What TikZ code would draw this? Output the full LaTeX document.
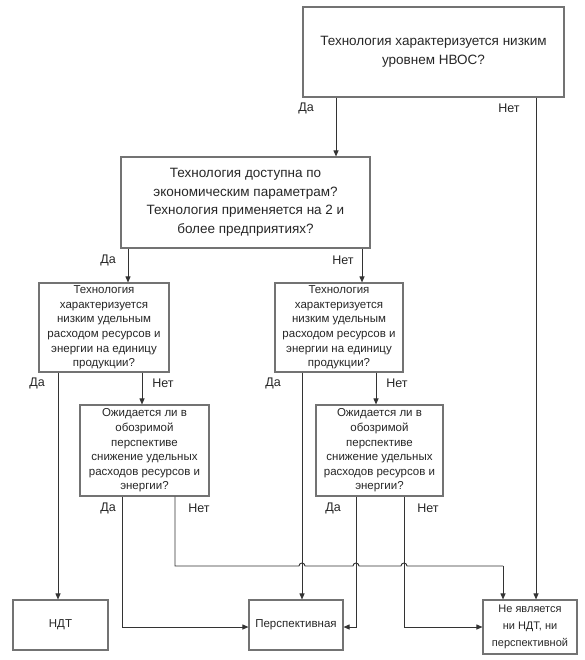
\documentclass[tikz,border=0pt]{standalone}
\usepackage{fontspec}
\setmainfont{Liberation Sans}
\usetikzlibrary{arrows.meta,positioning}

\begin{document}
\begin{tikzpicture}[
  x=1pt, y=-1pt, >={Triangle[length=6pt,width=5pt]},
  box/.style={draw=black!55, line width=1.1pt, align=center, inner sep=2pt, text=black!85},
  big/.style={box, font=\fontsize{13.5}{18.5}\selectfont},
  mid/.style={box, font=\fontsize{11.5}{14.6}\selectfont},
  leaf/.style={box, font=\fontsize{11.5}{17}\selectfont},
  lbl/.style={font=\fontsize{12.5}{14}\selectfont, text=black!85},
  dep/.style={->, line width=0.9pt, black!80},
  hop/.style={line width=0.9pt, black!80}
]
\useasboundingbox (0,0) rectangle (584,660);

\node[big, minimum width=261pt, minimum height=90pt] (top) at (433.5,52)
  {Технология характеризуется низким\\уровнем НВОС?};
\node[big, minimum width=249pt, minimum height=91pt] (access) at (245.5,202.5)
  {Технология доступна по\\экономическим параметрам?\\Технология применяется на 2 и\\более предприятиях?};

\node[mid, minimum width=130pt, minimum height=89pt] (lowL) at (104,327.5)
  {Технология\\характеризуется\\низким удельным\\расходом ресурсов и\\энергии на единицу\\продукции?};
\node[mid, minimum width=128pt, minimum height=89pt] (lowR) at (339,327.5)
  {Технология\\характеризуется\\низким удельным\\расходом ресурсов и\\энергии на единицу\\продукции?};

\node[mid, minimum width=129pt, minimum height=91pt] (expL) at (144.5,450.5)
  {Ожидается ли в\\обозримой\\перспективе\\снижение удельных\\расходов ресурсов и\\энергии?};
\node[mid, minimum width=127pt, minimum height=91pt] (expR) at (379.5,450.5)
  {Ожидается ли в\\обозримой\\перспективе\\снижение удельных\\расходов ресурсов и\\энергии?};

\node[leaf, minimum width=95pt, minimum height=50pt] (ndt) at (60.5,625) {НДТ};
\node[leaf, minimum width=94pt, minimum height=50pt] (persp) at (296,625) {Перспективная};
\node[leaf, font=\fontsize{11}{17}\selectfont, minimum width=94pt, minimum height=54pt] (none) at (530,627)
  {Не является\\ни НДТ, ни\\перспективной};

% labels
\node[lbl] (yes0) at (306,108) {Да};
\node[lbl] (no0) at (509,108) {Нет};
\node[lbl] (yes1) at (108,260) {Да};
\node[lbl] (no1) at (343,260) {Нет};
\node[lbl] (yes2) at (37,383) {Да};
\node[lbl] (no2) at (163,383) {Нет};
\node[lbl] (yes3) at (273,383) {Да};
\node[lbl] (no3) at (397,383) {Нет};
\node[lbl] (yes4) at (108,508) {Да};
\node[lbl] (no4) at (199,508) {Нет};
\node[lbl] (yes5) at (333,508) {Да};
\node[lbl] (no5) at (428,508) {Нет};

\draw[dep] ([xshift=-97.5pt]top.south) -- ([xshift=-97.5pt]top.south |- access.north);
\draw[dep] ([xshift=102.5pt]top.south) -- ([xshift=102.5pt]top.south |- none.north);
\draw[dep] ([xshift=-117.5pt]access.south) -- ([xshift=-117.5pt]access.south |- lowL.north);
\draw[dep] ([xshift=116.5pt]access.south) -- ([xshift=116.5pt]access.south |- lowR.north);
\draw[dep] ([xshift=-46pt]lowL.south) -- ([xshift=-46pt]lowL.south |- ndt.north);
\draw[dep] ([xshift=38pt]lowL.south) -- ([xshift=38pt]lowL.south |- expL.north);
\draw[dep] ([xshift=-37pt]lowR.south) -- ([xshift=-37pt]lowR.south |- persp.north);
\draw[dep] ([xshift=37pt]lowR.south) -- ([xshift=37pt]lowR.south |- expR.north);
\draw[dep] ([xshift=-22.5pt]expL.south) |- ([yshift=-2pt]persp.west);
\draw[dep] ([xshift=-23.5pt]expR.south) |- ([yshift=-2pt]persp.east);
\draw[dep] ([xshift=24.5pt]expR.south) |- (none.west);
% line with hops over the crossings
\draw[hop] ([xshift=30.5pt]expL.south) -- (175,566) -- (299,566)
  arc[start angle=180, end angle=0, radius=3pt] -- (353,566)
  arc[start angle=180, end angle=0, radius=3pt] -- (401,566)
  arc[start angle=180, end angle=0, radius=3pt] -- (503,566);
\draw[dep] (503,566) -- ([xshift=-27pt]none.north);
\end{tikzpicture}
\end{document}
